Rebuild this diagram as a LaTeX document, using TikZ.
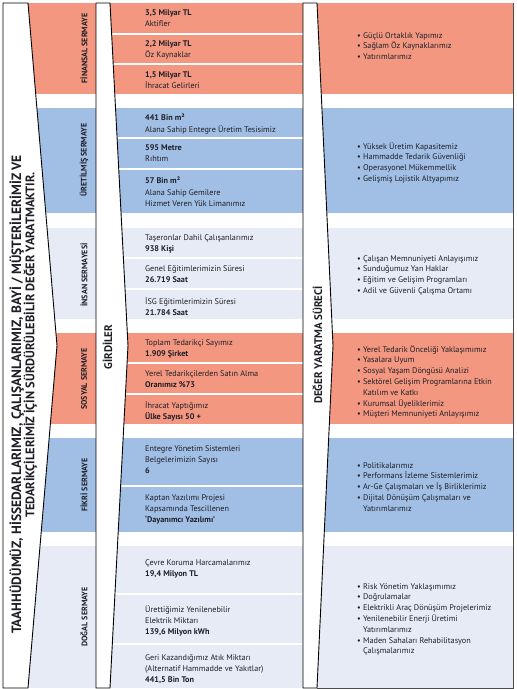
\documentclass[tikz,border=0pt]{standalone}
\usepackage{fontspec}
\setmainfont{PT Sans}
\definecolor{CapPink}{RGB}{243,151,128}
\definecolor{CapBlue}{RGB}{161,191,228}
\definecolor{CapLilac}{RGB}{230,235,246}
\definecolor{InkDark}{RGB}{30,30,40}
\tikzset{
  chev/.style={draw=black,fill=white,line width=0.9pt,line join=miter},
  gapline/.style={draw=white,line width=2.2pt},
  rimline/.style={draw=black!70,line width=0.6pt},
  caplab/.style={rotate=90,font=\bfseries\fontsize{8}{9}\selectfont,text=InkDark,inner sep=0pt},
  colhead/.style={rotate=90,font=\bfseries\fontsize{11}{13}\selectfont,text=InkDark,inner sep=0pt},
}
\tikzset{mission/.style={rotate=90,font=\bfseries\fontsize{13.5}{15}\selectfont,text=InkDark,inner sep=0pt},
  initem/.style={anchor=north west,align=left,inner sep=0pt,text=InkDark,font=\fontsize{8.2}{11.3}\selectfont},
  outitem/.style={anchor=north west,align=left,inner sep=0pt,text=InkDark,font=\fontsize{8.2}{10.8}\selectfont}}
\newcommand{\blt}{\textbullet\ }
\newcommand{\bltgap}{\hphantom{\textbullet\ }}

\begin{document}
\begin{tikzpicture}[x=1pt,y=-1pt]
\useasboundingbox (0,0) rectangle (517,689);
\fill[CapPink] (3,3) rectangle (513,94);
\fill[CapBlue] (3,108) rectangle (513,213);
\fill[CapLilac] (3,228) rectangle (513,319);
\fill[CapPink] (3,333) rectangle (513,424);
\fill[CapBlue] (3,438) rectangle (513,532);
\fill[CapLilac] (3,546) rectangle (513,688);
\draw[gapline] (100,34) -- (303,34);
\draw[gapline] (100,64) -- (303,64);
\draw[gapline] (100,138) -- (303,138);
\draw[gapline] (100,169) -- (303,169);
\draw[gapline] (100,258) -- (303,258);
\draw[gapline] (100,289) -- (303,289);
\draw[gapline] (100,363) -- (303,363);
\draw[gapline] (100,394) -- (303,394);
\draw[gapline] (100,486) -- (303,486);
\draw[gapline] (100,594) -- (303,594);
\draw[gapline] (100,644) -- (303,644);
\draw[chev] (3,3) -- (28,3) -- (57,345.5) -- (28,688) -- (3,688) -- cycle;
\draw[chev] (96,3) -- (110,3) -- (128,345.5) -- (110,688) -- (96,688) -- cycle;
\draw[chev] (303,3) -- (317,3) -- (333,345.5) -- (317,688) -- (303,688) -- cycle;
\draw[rimline] (513,3) -- (513,688) -- (317,688);

\node[mission] (missionA) at (16.8,394.5) {TAAHHÜDÜMÜZ, HİSSEDARLARIMIZ, ÇALIŞANLARIMIZ, BAYİ / MÜŞTERİLERİMİZ VE};
\node[mission,font=\bfseries\fontsize{12.4}{15}\selectfont] (missionB) at (30.3,345) {TEDARİKÇİLERİMİZ İÇİN SÜRDÜRÜLEBİLİR DEĞER YARATMAKTIR.};
\node[caplab] (capfin) at (84,48.5) {FİNANSAL SERMAYE};
\node[caplab] (capur) at (84,160) {ÜRETİLMİŞ SERMAYE};
\node[caplab] (capins) at (84,275) {İNSAN SERMAYESİ};
\node[caplab] (capsos) at (84,379) {SOSYAL SERMAYE};
\node[caplab] (capfik) at (84,485) {FİKRİ SERMAYE};
\node[caplab] (capdog) at (84,617) {DOĞAL SERMAYE};
\node[colhead] (girdi) at (107.5,347) {GİRDİLER};
\node[colhead] (surec) at (317.5,345) {DEĞER YARATMA SÜRECİ};

\node[initem] (fin1) at (145,9) {\textbf{3,5 Milyar TL}\\Aktifler};
\node[initem] (fin2) at (145,40) {\textbf{2,2 Milyar TL}\\Öz Kaynaklar};
\node[initem] (fin3) at (145,71) {\textbf{1,5 Milyar TL}\\İhracat Gelirleri};
\node[initem] (ur1) at (145,114) {\textbf{441 Bin m²}\\Alana Sahip Entegre Üretim Tesisimiz};
\node[initem] (ur2) at (145,144) {\textbf{595 Metre}\\Rıhtım};
\node[initem] (ur3) at (145,177) {\textbf{57 Bin m²}\\Alana Sahip Gemilere\\Hizmet Veren Yük Limanımız};
\node[initem] (ins1) at (145,234) {Taşeronlar Dahil Çalışanlarımız\\\textbf{938 Kişi}};
\node[initem] (ins2) at (145,265) {Genel Eğitimlerimizin Süresi\\\textbf{26.719 Saat}};
\node[initem] (ins3) at (145,297) {İSG Eğitimlerimizin Süresi\\\textbf{21.784 Saat}};
\node[initem] (sos1) at (145,339) {Toplam Tedarikçi Sayımız\\\textbf{1.909 Şirket}};
\node[initem] (sos2) at (145,370) {Yerel Tedarikçilerden Satın Alma\\\textbf{Oranımız \%73}};
\node[initem] (sos3) at (145,401) {İhracat Yaptığımız\\\textbf{Ülke Sayısı 50 +}};
\node[initem] (fik1) at (145,445) {Entegre Yönetim Sistemleri\\Belgelerimizin Sayısı\\\textbf{6}};
\node[initem] (fik2) at (145,494) {Kaptan Yazılımı Projesi\\Kapsamında Tescillenen\\\textbf{‘Dayanımcı Yazılımı’}};
\node[initem] (dog1) at (145,559) {Çevre Koruma Harcamalarımız\\\textbf{19,4 Milyon TL}};
\node[initem] (dog2) at (145,605) {Ürettiğimiz Yenilenebilir\\Elektrik Miktarı\\\textbf{139,6 Milyon kWh}};
\node[initem] (dog3) at (145,654) {Geri Kazandığımız Atık Miktarı\\(Alternatif Hammadde ve Yakıtlar)\\\textbf{441,5 Bin Ton}};

\node[outitem] (finout) at (357,32) {\blt Güçlü Ortaklık Yapımız\\\blt Sağlam Öz Kaynaklarımız\\\blt Yatırımlarımız};
\node[outitem] (urout) at (357,142) {\blt Yüksek Üretim Kapasitemiz\\\blt Hammadde Tedarik Güvenliği\\\blt Operasyonel Mükemmellik\\\blt Gelişmiş Lojistik Altyapımız};
\node[outitem] (insout) at (357,255) {\blt Çalışan Memnuniyeti Anlayışımız\\\blt Sunduğumuz Yan Haklar\\\blt Eğitim ve Gelişim Programları\\\blt Adil ve Güvenli Çalışma Ortamı};
\node[outitem] (sosout) at (357,345) {\blt Yerel Tedarik Önceliği Yaklaşımımız\\\blt Yasalara Uyum\\\blt Sosyal Yaşam Döngüsü Analizi\\\blt Sektörel Gelişim Programlarına Etkin\\\bltgap Katılım ve Katkı\\\blt Kurumsal Üyeliklerimiz\\\blt Müşteri Memnuniyeti Anlayışımız};
\node[outitem] (fikout) at (357,462) {\blt Politikalarımız\\\blt Performans İzleme Sistemlerimiz\\\blt Ar-Ge Çalışmaları ve İş Birliklerimiz\\\blt Dijital Dönüşüm Çalışmaları ve\\\bltgap Yatırımlarımız};
\node[outitem] (dogout) at (357,583) {\blt Risk Yönetim Yaklaşımımız\\\blt Doğrulamalar\\\blt Elektrikli Araç Dönüşüm Projelerimiz\\\blt Yenilenebilir Enerji Üretimi\\\bltgap Yatırımlarımız\\\blt Maden Sahaları Rehabilitasyon\\\bltgap Çalışmalarımız};
\end{tikzpicture}
\end{document}
